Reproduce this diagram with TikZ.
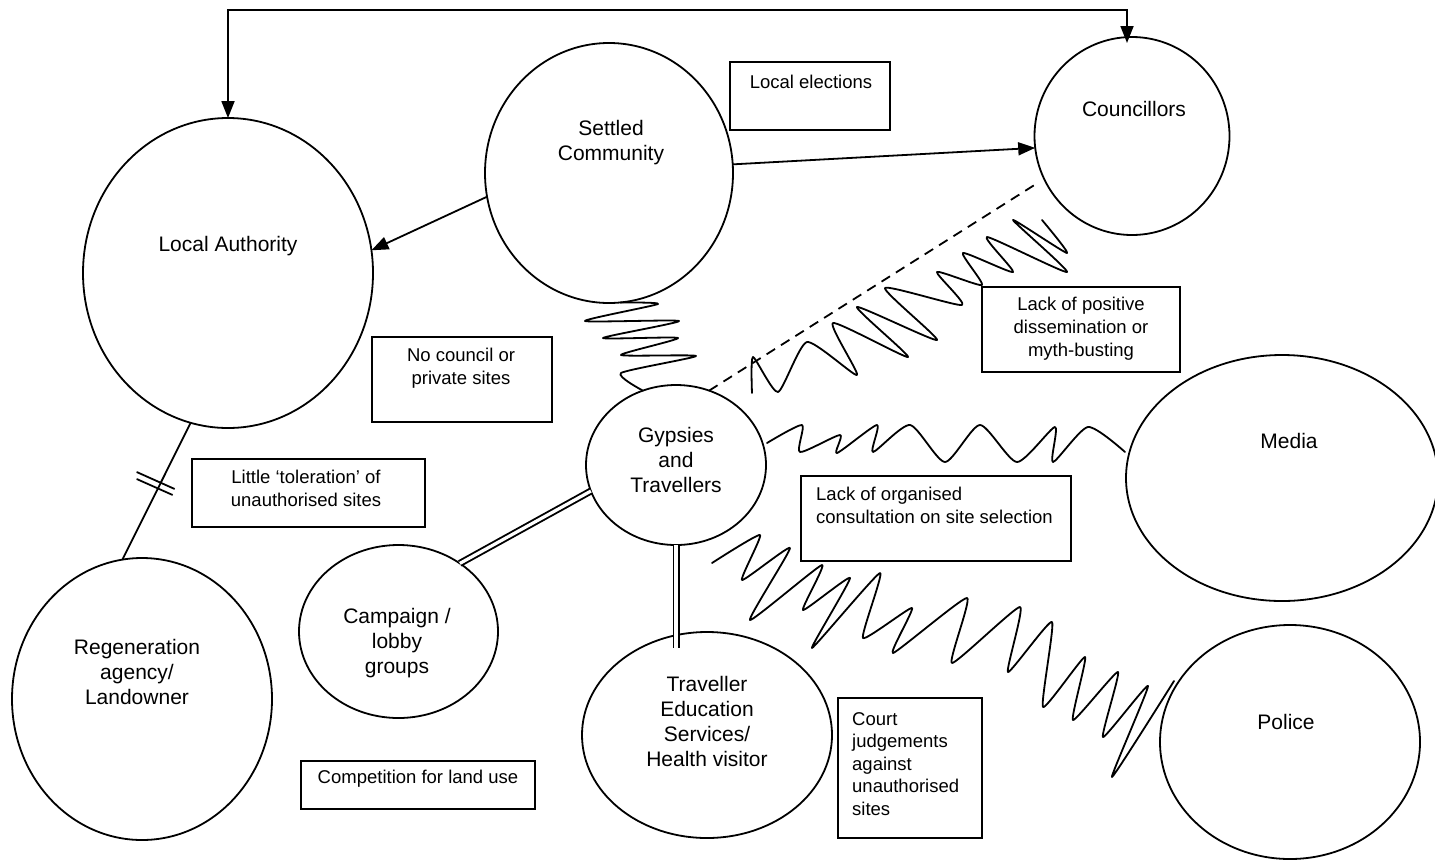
\documentclass[tikz,border=0pt]{standalone}
\usepackage{fontspec}
\setmainfont{Liberation Sans}
\usetikzlibrary{shapes.geometric,arrows.meta,calc}
\begin{document}
\begin{tikzpicture}[x=1pt,y=-1pt,
  ell/.style={draw,ellipse,line width=1.8pt,inner sep=0pt,outer sep=0pt},
  box/.style={draw,rectangle,line width=1.8pt,inner sep=0pt,outer sep=0pt},
  big/.style={font=\fontsize{21}{25}\selectfont,align=center,inner sep=0pt},
  small/.style={font=\fontsize{18.5}{23}\selectfont,align=center,inner sep=0pt},
  conn/.style={line width=1.8pt},
  arr/.style={conn,-{Triangle[length=17pt,width=13pt]}},
  dbl/.style={line width=1.9pt,double,double distance=3.2pt},
  zig/.style={line width=1.8pt,line join=round,line cap=round},
]
\useasboundingbox (0,0) rectangle (1435,863);

% ellipses
\node[ell,minimum width=290pt,minimum height=310pt] (la) at (228,273) {};
\node[ell,minimum width=248pt,minimum height=260pt] (sc) at (609,173) {};
\node[ell,minimum width=195pt,minimum height=198pt] (co) at (1132,136) {};
\node[ell,minimum width=180pt,minimum height=160pt] (gt) at (676,465) {};
\node[ell,minimum width=312pt,minimum height=246pt] (me) at (1282,478) {};
\node[ell,minimum width=260pt,minimum height=234pt] (po) at (1290,742) {};
\node[ell,minimum width=260pt,minimum height=282pt] (ra) at (142,699) {};
\node[ell,minimum width=199pt,minimum height=173pt] (cl) at (398.5,631.5) {};
\node[ell,minimum width=250pt,minimum height=206pt] (te) at (707,735) {};

% boxes
\node[box,minimum width=160pt,minimum height=68pt] (le) at (810,96) {};
\node[box,minimum width=198pt,minimum height=85pt] (lp) at (1081,329.5) {};
\node[box,minimum width=180pt,minimum height=85pt] (nc) at (462,379.5) {};
\node[box,minimum width=233pt,minimum height=68pt] (lt) at (308.5,493) {};
\node[box,minimum width=270pt,minimum height=85pt] (lo) at (936,518.5) {};
\node[box,minimum width=234pt,minimum height=48pt] (cp) at (418,785) {};
\node[box,minimum width=144pt,minimum height=140pt] (cj) at (910,768) {};

% big labels
\node[big] (tla) at (228,246) {Local Authority};
\node[big] (tsc) at (611,143) {Settled\\Community};
\node[big] (tco) at (1134,109) {Councillors};
\node[big] (tgt) at (676,460) {Gypsies\\and\\Travellers};
\node[big] (tme) at (1289,441) {Media};
\node[big] (tpo) at (1286,722) {Police};
\node[big] (tra) at (137,672) {Regeneration\\agency/\\Landowner};
\node[big] (tcl) at (397,643) {Campaign /\\lobby\\groups};
\node[big] (tte) at (707,721) {Traveller\\Education\\Services/\\Health visitor};

% small labels
\node[small] (tle) at (811,82) {Local elections};
\node[small] (tlp) at (1081,329) {Lack of positive\\dissemination or\\myth-busting};
\node[small] (tnc) at (461,368.5) {No council or\\private sites};
\node[small] (tlt) at (306,488.5) {Little ‘toleration’ of\\unauthorised sites};
\node[small,align=left,anchor=west] (tlo) at (816,505.5) {Lack of organised\\consultation on site selection};
\node[small] (tcp) at (418,779) {Competition for land use};
\node[small,align=left,anchor=west,font=\fontsize{18.5}{22.5}\selectfont] (tcj) at (852,764) {Court\\judgements\\against\\unauthorised\\sites};

% arrows
\coordinate (topline) at (0,10);
\draw[arr] (sc.191.8) -- (la.9);
\draw[arr] (sc.4) -- (co.187);
\draw[conn,{Triangle[length=17pt,width=13pt]}-{Triangle[length=17pt,width=13pt]}]
  (la.north) -- (la.north |- topline) -| ([xshift=-5pt,yshift=-6pt]co.north);

% dashed
\coordinate (dend) at (1036,184);
\draw[conn,dash pattern=on 10pt off 7pt] (gt.66) -- (dend);

% broken line
\draw[conn] (la.256.6) -- coordinate[pos=0.44] (brk) (ra.98.8);
\draw[conn] ($(brk)+(-24,-11)$) -- ($(brk)+(14,6)$);
\draw[conn] ($(brk)+(-24,-4)$) -- ($(brk)+(12,12)$);

% double lines
\draw[dbl] (gt.197.5) -- (cl.48.4);
\draw[dbl] (gt.south) -- ($(gt.south |- te.north)+(0,16)$);

% zigzags
\coordinate (z2a) at (752,393);
\coordinate (z2b) at (1042,220);
\coordinate (z3a) at (767,443);
\coordinate (z3b) at (1125,452);
\coordinate (z4a) at (712,563);
\coordinate (z4b) at (1174,681);

\draw[zig] plot[smooth,tension=0.35] coordinates {(sc.275) (658,304) (585,321) (679,321) (603,338) (678,338) (621,355) (696,356) (621,373) (gt.114)};

\draw[zig] plot[smooth,tension=0.35] coordinates {(z2a) (753,357) (778,392) (807,342) (857,375) (833,323) (908,357) (857,307) (937,340) (885,288) (962,305) (937,272) (982,285) (963,253) (1013,272) (987,237) (1067,272) (1013,220) (1067,253) (z2b)};

\draw[zig] plot[smooth,tension=0.4] coordinates {(z3a) (802,425) (800,452) (840,435) (837,453) (877,425) (873,452) (910,425) (945,462) (980,425) (1017,462) (1055,427) (1053,462) (1088,427) (z3b)};

\draw[zig] plot[smooth,tension=0.3] coordinates {(z4a) (760,535) (742,580) (790,548) (750,620) (822,565) (803,610) (850,578) (812,648) (880,573) (863,638) (912,608) (893,653) (967,598) (952,663) (1020,607) (1008,672) (1052,622) (1043,707) (1085,657) (1073,720) (1118,672) (1103,737) (1148,686) (1112,777) (z4b)};

\end{tikzpicture}
\end{document}
